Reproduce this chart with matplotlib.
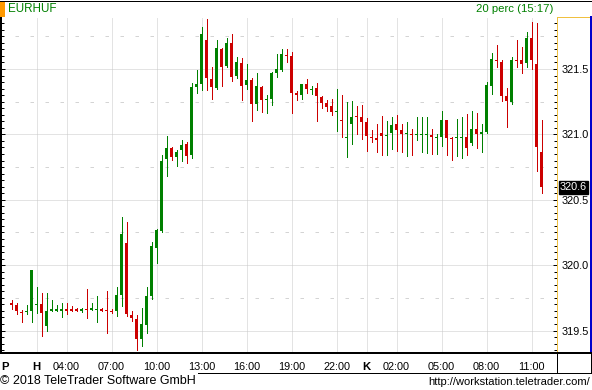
import matplotlib
matplotlib.use("Agg")
import matplotlib.pyplot as plt
import matplotlib.transforms as mtransforms
from matplotlib.lines import Line2D
from matplotlib.patches import Rectangle
import numpy as np

# ---------------- data (EURHUF, 20-minute candles) ----------------
opens = [319.707, 319.692, 319.641, 319.641, 319.648, 319.694, 319.699, 319.533, 319.653, 319.653,
         319.653, 319.664, 319.664, 319.664, 319.653, 319.664, 319.659, 319.656, 319.666, 319.656,
         319.653, 319.648, 319.768, 320.167, 319.618, 319.587, 319.434, 319.541, 319.761, 320.131,
         320.259, 320.813, 320.895, 320.828, 320.879, 320.925, 320.844, 321.362, 321.385, 321.722,
         321.423, 321.355, 321.653, 321.523, 321.699, 321.446, 321.546, 321.378, 321.416, 321.232,
         321.362, 321.263, 321.270, 321.469, 321.492, 321.607, 321.600, 321.316, 321.301, 321.385,
         321.339, 321.355, 321.286, 321.240, 321.217, 321.171, 321.109, 320.971, 321.079, 321.140,
         321.132, 321.094, 320.979, 320.971, 321.010, 320.987, 321.010, 321.079, 321.033, 321.002,
         321.002, 320.994, 320.994, 320.994, 320.994, 320.971, 320.979, 321.109, 320.971, 320.971,
         320.971, 320.979, 320.933, 321.040, 321.002, 321.017, 321.370, 321.572, 321.554, 321.293,
         321.247, 321.572, 321.569, 321.546, 321.738, 321.538, 320.864]
highs = [319.730, 319.707, 319.656, 319.692, 319.960, 319.830, 319.784, 319.784, 319.730, 319.692,
         319.707, 319.707, 319.684, 319.676, 319.676, 319.814, 319.707, 319.761, 319.676, 319.799,
         319.666, 319.830, 320.366, 320.328, 319.648, 319.618, 319.676, 319.830, 320.175, 320.274,
         320.841, 320.987, 320.902, 320.879, 320.956, 320.941, 321.393, 321.492, 321.822, 321.883,
         321.515, 321.722, 321.661, 321.738, 321.768, 321.592, 321.584, 321.538, 321.431, 321.469,
         321.370, 321.301, 321.477, 321.615, 321.653, 321.653, 321.630, 321.332, 321.385, 321.423,
         321.370, 321.393, 321.293, 321.263, 321.270, 321.347, 321.301, 321.247, 321.255, 321.217,
         321.224, 321.125, 321.033, 321.079, 321.140, 321.102, 321.132, 321.148, 321.079, 321.094,
         321.040, 321.132, 321.132, 321.132, 321.040, 321.002, 321.178, 321.109, 320.979, 321.117,
         321.132, 321.155, 321.178, 321.163, 321.079, 321.400, 321.623, 321.684, 321.569, 321.355,
         321.592, 321.722, 321.669, 321.784, 321.860, 321.853, 321.109]
lows = [319.666, 319.625, 319.564, 319.625, 319.564, 319.633, 319.457, 319.495, 319.648, 319.648,
        319.602, 319.625, 319.648, 319.648, 319.641, 319.595, 319.656, 319.564, 319.648, 319.480,
        319.633, 319.610, 319.687, 319.610, 319.572, 319.349, 319.380, 319.480, 319.738, 320.016,
        320.251, 320.683, 320.805, 320.760, 320.798, 320.782, 320.821, 321.316, 321.339, 321.339,
        321.270, 321.347, 321.370, 321.515, 321.408, 321.431, 321.263, 321.347, 321.102, 321.186,
        321.171, 321.163, 321.224, 321.439, 321.485, 321.554, 321.163, 321.263, 321.270, 321.316,
        321.309, 321.102, 321.201, 321.178, 321.148, 321.025, 320.979, 320.826, 320.925, 321.002,
        320.964, 320.872, 320.941, 320.864, 320.841, 320.841, 320.887, 320.872, 320.864, 320.833,
        320.841, 320.956, 320.864, 320.856, 320.849, 320.849, 320.910, 320.841, 320.803, 320.833,
        320.818, 320.841, 320.918, 320.895, 320.864, 321.010, 321.309, 321.515, 321.255, 321.056,
        321.232, 321.515, 321.469, 321.515, 321.500, 320.719, 320.550]
closes = [319.694, 319.648, 319.633, 319.648, 319.960, 319.702, 319.633, 319.646, 319.664, 319.664,
          319.661, 319.653, 319.653, 319.653, 319.664, 319.656, 319.669, 319.664, 319.653, 319.648,
          319.641, 319.768, 320.236, 319.625, 319.595, 319.434, 319.549, 319.761, 320.144, 320.267,
          320.795, 320.895, 320.828, 320.864, 320.918, 320.836, 321.362, 321.385, 321.768, 321.434,
          321.362, 321.661, 321.515, 321.699, 321.439, 321.554, 321.370, 321.416, 321.232, 321.370,
          321.263, 321.270, 321.469, 321.500, 321.615, 321.600, 321.316, 321.301, 321.385, 321.347,
          321.347, 321.293, 321.240, 321.209, 321.171, 321.178, 321.102, 320.979, 321.132, 321.132,
          321.094, 320.987, 320.971, 320.956, 320.987, 320.994, 321.071, 321.033, 321.002, 321.010,
          320.994, 321.002, 321.002, 321.002, 320.979, 320.979, 321.109, 320.971, 320.964, 320.979,
          320.979, 320.895, 321.040, 321.002, 321.017, 321.378, 321.577, 321.561, 321.293, 321.255,
          321.569, 321.561, 321.538, 321.738, 321.569, 320.902, 320.596]

time_labels = ["P", "H", "04:00", "07:00", "10:00", "13:00", "16:00", "19:00", "22:00",
               "K", "02:00", "05:00", "08:00", "11:00"]
time_pos = [-1.3, 5, 11, 20, 29, 38, 47, 56, 65, 71, 77, 86, 95, 104]
day_labels = ["P", "H", "K"]

price_ticks = [319.5, 320.0, 320.5, 321.0, 321.5]
price_quarters = [319.75, 320.25, 320.75, 321.25, 321.75]

symbol = "EURHUF"
delay_text = "20 perc (15:17)"
footer_left = "\u00a9 2018 TeleTrader Software GmbH"
footer_right = "http://workstation.teletrader.com/"

# ---------------- figure ----------------
W, H, DPI = 592, 390, 100
plt.rcParams["font.family"] = ["Liberation Sans", "DejaVu Sans"]
fig = plt.figure(figsize=(W / DPI, H / DPI), dpi=DPI)
fig.patch.set_facecolor("white")


def fx(px):
    return px / W


def fy(py):
    return 1 - py / H


PX = 72.0 / DPI  # one pixel in points

GREEN = "#008000"
RED = "#cc0000"
GRID = "#c8c8c8"

L, R, T, B = 1, 557, 17, 353
ax = fig.add_axes([fx(L), fy(B), fx(R - L), (B - T) / H])
ax.set_facecolor("white")

n = len(opens)
x = np.arange(n)
o = np.array(opens)
h = np.array(highs)
l = np.array(lows)
c = np.array(closes)
up = c >= o
cols = np.where(up, GREEN, RED)

# wicks
ax.vlines(x, l, h, colors=cols, linewidth=PX, zorder=3, antialiased=False)
# bodies
body_lo = np.minimum(o, c)
body_h = np.maximum(np.abs(c - o), 0.008)
ax.bar(x, body_h, bottom=body_lo, width=0.6, color=cols, linewidth=0, zorder=4,
       antialiased=False)

ax.set_xlim((L - 11.5) / 5, (R - 11.5) / 5)
ax.set_ylim(319.328, 321.898)

# grid
for p in price_ticks:
    ax.axhline(p, color=GRID, linewidth=PX, linestyle=(0, (1, 1)), zorder=1)
for p in price_quarters:
    ax.axhline(p, color="#d4d4d4", linewidth=PX, linestyle=(1, (3.5, 11.5)), zorder=1)
for lab, pos in zip(time_labels, time_pos):
    if lab != "P":
        ax.axvline(pos, color=GRID, linewidth=PX, linestyle=(0, (1, 1)), zorder=1)

# axes styling
ax.spines["top"].set_visible(False)
ax.spines["left"].set_color("black")
ax.spines["left"].set_linewidth(2 * PX)
ax.spines["bottom"].set_color("black")
ax.spines["bottom"].set_linewidth(2 * PX)
ax.spines["right"].set_color("#f0c040")
ax.spines["right"].set_linewidth(PX)

ax.yaxis.tick_right()
ax.set_yticks(price_ticks)
ax.set_yticklabels([f"{p:.1f}" for p in price_ticks])
ax.set_yticks(np.round(np.arange(319.35, 321.9, 0.05), 2), minor=True)
ax.tick_params(axis="y", which="both", left=True, right=True, direction="in",
               labelleft=False, labelright=True, color="black", width=PX)
ax.tick_params(axis="y", which="major", length=3, pad=3.6, labelsize=7.8)
ax.tick_params(axis="y", which="minor", length=2.2)

ax.set_xticks(time_pos)
ax.set_xticklabels(time_labels)
ax.tick_params(axis="x", length=0, pad=6.2, labelsize=7.8)
for t in ax.get_xticklabels():
    if t.get_text() in day_labels:
        t.set_fontweight("bold")
        t.set_fontsize(8.2)

# current price label
last = closes[-1]
trans = mtransforms.blended_transform_factory(ax.transAxes, ax.transData)
ax.text(1.0 + 3 / (R - L), last, f"{last:.1f}", transform=trans, ha="left", va="center",
        color="white", fontsize=7.8, zorder=10,
        bbox=dict(boxstyle="square,pad=0.12", facecolor="black", edgecolor="black"))

# ---------------- frame decorations ----------------
fig.add_artist(Line2D([0, 1], [fy(0.5), fy(0.5)], color="black", linewidth=PX))
fig.add_artist(Rectangle((fx(0), fy(16.5)), fx(5), 15.5 / H, facecolor="#ff9900",
                         edgecolor="none"))
# right panel borders
fig.add_artist(Line2D([fx(557), fx(590)], [fy(T), fy(T)], color="#f0c040", linewidth=PX))
fig.add_artist(Line2D([fx(590.5), fx(590.5)], [fy(T), fy(B)], color="#0000cc",
                      linewidth=2 * PX))
fig.add_artist(Line2D([fx(557), fx(557)], [fy(B), fy(373)], color="black", linewidth=PX))
fig.add_artist(Line2D([fx(591), fx(591)], [fy(B), fy(373)], color="black", linewidth=PX))
fig.add_artist(Line2D([fx(0), fx(592)], [fy(B), fy(B)], color="black", linewidth=2 * PX))
fig.add_artist(Line2D([fx(198), fx(592)], [fy(373), fy(373)], color="black", linewidth=PX))

fig.text(fx(8), fy(9), symbol, color=GREEN, fontsize=8.4, va="center", ha="left")
fig.text(fx(553), fy(9), delay_text, color=GREEN, fontsize=8.2, va="center", ha="right")
fig.text(fx(0), fy(381), footer_left, color="black", fontsize=9, va="center", ha="left")
fig.text(fx(590), fy(382), footer_right, color="black", fontsize=8, va="center", ha="right")

fig.savefig("out.png", dpi=DPI, facecolor="white")
